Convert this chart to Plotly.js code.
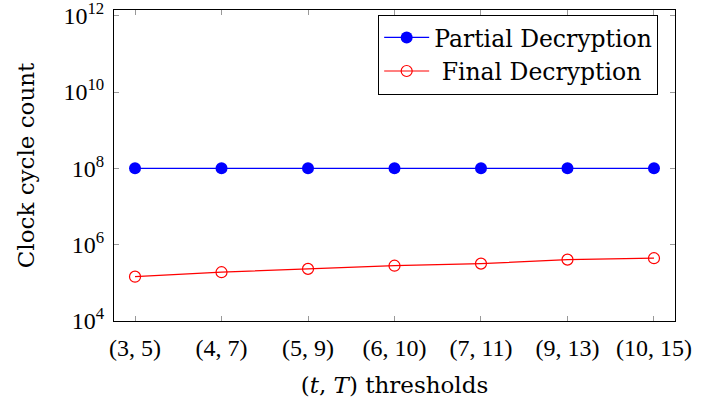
<!DOCTYPE html>
<html>
<head>
<meta charset="utf-8">
<script src="https://cdn.plot.ly/plotly-3.0.1.min.js"></script>
<style>html,body{margin:0;padding:0;background:#fff;}#chart{width:701px;height:412px;}</style>
</head>
<body>
<div id="chart"></div>
<script>
const categories = ["(3, 5)", "(4, 7)", "(5, 9)", "(6, 10)", "(7, 11)", "(9, 13)", "(10, 15)"];
const seriesNames = ["Partial Decryption", "Final Decryption"];
const partialDecryption = [1.0e8, 1.0e8, 1.0e8, 1.0e8, 1.0e8, 1.0e8, 1.0e8];
const finalDecryption = [1.45e5, 1.90e5, 2.32e5, 2.81e5, 3.19e5, 4.06e5, 4.42e5];
const yTickVals = [1e4, 1e6, 1e8, 1e10, 1e12];
const yTickText = ["10<sup>4</sup>", "10<sup>6</sup>", "10<sup>8</sup>", "10<sup>10</sup>", "10<sup>12</sup>"];

const tickFont = "Liberation Serif";
const textFont = "DejaVu Serif";
const idx = categories.map((c, i) => i);

const traces = [
  {
    x: idx, y: partialDecryption, name: seriesNames[0],
    type: "scatter", mode: "lines+markers",
    line: {color: "#0000ff", width: 1.2},
    marker: {color: "#0000ff", size: 12, symbol: "circle"}
  },
  {
    x: idx, y: finalDecryption, name: "\u00a0" + seriesNames[1],
    type: "scatter", mode: "lines+markers",
    line: {color: "#ff0000", width: 1.2},
    marker: {color: "#ff0000", size: 11, symbol: "circle-open", line: {width: 1.2, color: "#ff0000"}}
  }
];

const layout = {
  width: 701, height: 412,
  margin: {l: 114, r: 26, t: 10, b: 91},
  paper_bgcolor: "#fff", plot_bgcolor: "#fff",
  font: {family: textFont, size: 23, color: "#000"},
  showlegend: true,
  legend: {
    x: 0.97, y: 0.985, xanchor: "right", yanchor: "top",
    bordercolor: "#000", borderwidth: 1, bgcolor: "#fff",
    font: {family: textFont, size: 23.5, color: "#000"},
    tracegroupgap: 0, itemwidth: 45
  },
  xaxis: {
    range: [-0.243, 6.243],
    tickvals: idx, ticktext: categories,
    showgrid: false, zeroline: false,
    showline: true, linecolor: "#000", linewidth: 1, mirror: "ticks",
    ticks: "inside", ticklen: 5, tickcolor: "#999", tickwidth: 1,
    ticklabelstandoff: 5,
    tickfont: {family: tickFont, size: 24, color: "#000"},
    title: {text: "(<i>t</i>, <i>T</i>) thresholds", font: {family: textFont, size: 23, color: "#000"}, standoff: 17}
  },
  yaxis: {
    type: "log", range: [4, 12.15],
    tickvals: yTickVals, ticktext: yTickText,
    ticklabeloverflow: "allow",
    showgrid: false, zeroline: false,
    showline: true, linecolor: "#000", linewidth: 1, mirror: "ticks",
    ticks: "inside", ticklen: 5, tickcolor: "#999", tickwidth: 1,
    ticklabelstandoff: 4,
    tickfont: {family: tickFont, size: 24, color: "#000"},
    title: {text: "Clock cycle count", font: {family: textFont, size: 23, color: "#000"}, standoff: 22}
  }
};

Plotly.newPlot("chart", traces, layout, {displayModeBar: false, staticPlot: true});
</script>
</body>
</html>
